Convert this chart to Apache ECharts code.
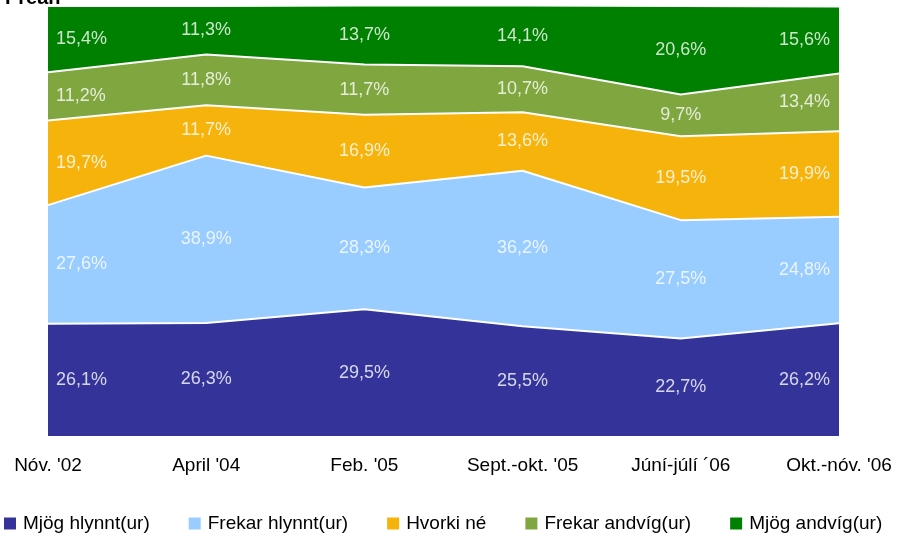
<!DOCTYPE html>
<html>
<head>
<meta charset="utf-8">
<script src="https://cdn.jsdelivr.net/npm/echarts@6/dist/echarts.min.js"></script>
<style>
  html, body { margin: 0; padding: 0; background: #fff; }
  #chart { width: 909px; height: 536px; }
</style>
</head>
<body>
<div id="chart"></div>
<script>
// flokkar (x-ás)
const categories = ["Nóv. '02", "April '04", "Feb. '05", "Sept.-okt. '05", "Júní-júlí ´06", "Okt.-nóv. '06"];

// hlutföll í % frá neðstu röð til efstu
const mjogHlynnt   = [26.1, 26.3, 29.5, 25.5, 22.7, 26.2];
const frekarHlynnt = [27.6, 38.9, 28.3, 36.2, 27.5, 24.8];
const hvorkiNe     = [19.7, 11.7, 16.9, 13.6, 19.5, 19.9];
const frekarAndvig = [11.2, 11.8, 11.7, 10.7, 9.7, 13.4];
const mjogAndvig   = [15.4, 11.3, 13.7, 14.1, 20.6, 15.6];

const seriesNames = ['Mjög hlynnt(ur)', 'Frekar hlynnt(ur)', 'Hvorki né', 'Frekar andvíg(ur)', 'Mjög andvíg(ur)'];
const seriesData = [mjogHlynnt, frekarHlynnt, hvorkiNe, frekarAndvig, mjogAndvig];
const colors = ['#333399', '#99ccff', '#f6b30b', '#7fa63f', '#008000'];

const FONT = '"Liberation Sans", Arial, sans-serif';

const fmt = (v) => v.toFixed(1).replace('.', ',') + '%';

// staflaðar svæðisraðir
const areaSeries = seriesData.map((d, i) => ({
    name: seriesNames[i],
    type: 'line',
    stack: 'total',
    data: d,
    symbol: 'none',
    itemStyle: { color: colors[i] },
    lineStyle: { color: '#ffffff', width: 2 },
    areaStyle: { color: colors[i], opacity: 1 },
    z: 2
}));

// merkingar í miðju hvers bands
const labelPoints = [];
const cum = categories.map(() => 0);
seriesData.forEach((d) => {
    d.forEach((v, j) => {
        const last = j === categories.length - 1;
        const first = j === 0;
        labelPoints.push({
            value: [j, cum[j] + v / 2, v],
            label: {
                align: first ? 'left' : (last ? 'right' : 'center'),
                offset: [first ? 8 : (last ? -9 : 0), 0]
            }
        });
        cum[j] += v;
    });
});

const labelSeries = {
    type: 'scatter',
    data: labelPoints,
    symbolSize: 0,
    silent: true,
    z: 5,
    label: {
        show: true,
        position: 'inside',
        color: '#ffffff',
        fontFamily: FONT,
        fontSize: 18,
        verticalAlign: 'middle',
        formatter: (p) => fmt(p.value[2])
    }
};

const chart = echarts.init(document.getElementById('chart'), null, { renderer: 'canvas' });

chart.setOption({
    animation: false,
    backgroundColor: '#ffffff',
    title: {
        text: 'Prean',
        left: 0,
        top: -17,
        textStyle: { fontFamily: FONT, fontSize: 20, fontWeight: 'bold', color: '#000' }
    },
    grid: { left: 48, right: 70, top: 6, bottom: 100 },
    xAxis: {
        type: 'category',
        data: categories,
        boundaryGap: false,
        axisLine: { show: false },
        axisTick: { show: false },
        splitLine: { show: false },
        axisLabel: {
            color: '#000',
            fontFamily: FONT,
            fontSize: 19,
            margin: 20,
            interval: 0
        }
    },
    yAxis: {
        type: 'value',
        min: 0,
        max: 100,
        show: false
    },
    legend: {
        data: seriesNames,
        left: 4,
        top: 514,
        padding: 0,
        icon: 'rect',
        itemWidth: 12,
        itemHeight: 12,
        itemGap: 39,
        itemStyle: { borderWidth: 0 },
        lineStyle: { width: 0 },
        textStyle: { fontFamily: FONT, fontSize: 19, color: '#000', padding: [0, 0, 0, 2] }
    },
    series: [...areaSeries, labelSeries]
});
</script>
</body>
</html>
